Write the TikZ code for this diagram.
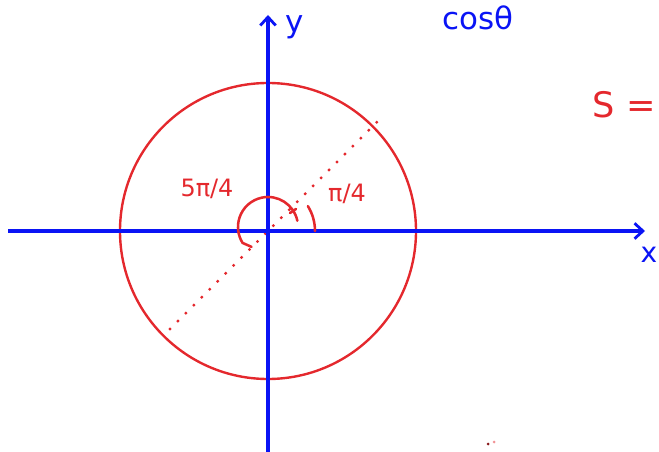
\documentclass[tikz,border=0pt]{standalone}
\usepackage{fontspec}
\setmainfont{DejaVu Sans}
\definecolor{penblue}{RGB}{10,20,245}
\definecolor{penred}{RGB}{228,40,45}
\tikzset{
  axis/.style={penblue,line width=5.5pt,-{Straight Barb[length=12pt,width=22pt,line width=4pt]}},
  ring/.style={penred,line width=3.4pt},
  ray/.style={penred,line width=4.8pt,line cap=round,dash pattern=on 0pt off 16pt},
  stroke/.style={penred,line width=3.6pt,line cap=round},
  redtext/.style={penred,font=\fontsize{34}{34}\selectfont,inner sep=0pt},
  bluetext/.style={penblue,font=\fontsize{44}{44}\selectfont,inner sep=0pt}
}
\usetikzlibrary{arrows.meta}
\begin{document}
\begin{tikzpicture}[x=0.05cm,y=0.05cm]
\useasboundingbox (0,0) rectangle (659,451);
\clip (0,0) rectangle (659,451);
\coordinate (o) at (268,220);
\coordinate (xl) at (8,220);
\coordinate (xr) at (645,220);
\coordinate (yb) at (268,-2);
\coordinate (yt) at (268,436);
\coordinate (rl) at (170,122);
\coordinate (ru) at (382,334);
\draw[ring] (o) circle (148);
\draw[ray] (rl) -- (ru);
\draw[axis] (xl) -- (xr);
\draw[axis] (yb) -- (yt);
\node[bluetext,font=\fontsize{40}{40}\selectfont] (xlab) at (649,196) {x};
\node[bluetext] (ylab) at (295,424) {y};
\draw[stroke] ([shift={(12:30)}]268,224) arc (12:212:30) -- ++(9,-4);
\draw[stroke] (290,238) -- (296,242);
\draw[stroke] ([shift={(0:47)}]o) arc (0:32:47);
\node[redtext] (big) at (207,262) {5π/4};
\node[redtext] (small) at (347,257) {π/4};
\node[bluetext] (cos) at (478,433) {cosθ};
\node[redtext,font=\fontsize{50}{50}\selectfont,anchor=east] (s) at (656,346) {S =};
\fill[penred!60!black] (488,7) circle (1.5);
\fill[penred!50] (494,9) circle (1.5);
\end{tikzpicture}
\end{document}
